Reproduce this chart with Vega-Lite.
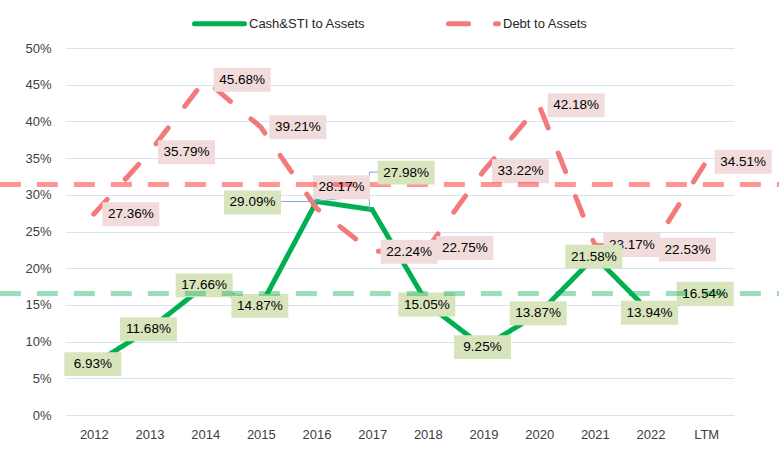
{
  "$schema": "https://vega.github.io/schema/vega-lite/v6.json",
  "width": 668,
  "height": 367,
  "autosize": {"type": "none"},
  "padding": {"left": 66, "top": 48, "right": 45, "bottom": 43},
  "background": "white",
  "datasets": {
    "main": [
      {"year": "2012", "series": "Cash&STI to Assets", "value": 0.0693},
      {"year": "2013", "series": "Cash&STI to Assets", "value": 0.1168},
      {"year": "2014", "series": "Cash&STI to Assets", "value": 0.1766},
      {"year": "2015", "series": "Cash&STI to Assets", "value": 0.1487},
      {"year": "2016", "series": "Cash&STI to Assets", "value": 0.2909},
      {"year": "2017", "series": "Cash&STI to Assets", "value": 0.2798},
      {"year": "2018", "series": "Cash&STI to Assets", "value": 0.1505},
      {"year": "2019", "series": "Cash&STI to Assets", "value": 0.0925},
      {"year": "2020", "series": "Cash&STI to Assets", "value": 0.1387},
      {"year": "2021", "series": "Cash&STI to Assets", "value": 0.2158},
      {"year": "2022", "series": "Cash&STI to Assets", "value": 0.1394},
      {"year": "LTM", "series": "Cash&STI to Assets", "value": 0.1654},
      {"year": "2012", "series": "Debt to Assets", "value": 0.2736},
      {"year": "2013", "series": "Debt to Assets", "value": 0.3579},
      {"year": "2014", "series": "Debt to Assets", "value": 0.4568},
      {"year": "2015", "series": "Debt to Assets", "value": 0.3921},
      {"year": "2016", "series": "Debt to Assets", "value": 0.2817},
      {"year": "2017", "series": "Debt to Assets", "value": 0.2224},
      {"year": "2018", "series": "Debt to Assets", "value": 0.2275},
      {"year": "2019", "series": "Debt to Assets", "value": 0.3322},
      {"year": "2020", "series": "Debt to Assets", "value": 0.4218},
      {"year": "2021", "series": "Debt to Assets", "value": 0.2317},
      {"year": "2022", "series": "Debt to Assets", "value": 0.2253},
      {"year": "LTM", "series": "Debt to Assets", "value": 0.3451}
    ],
    "avg": [
      {"series": "Cash&STI to Assets", "value": 0.1654},
      {"series": "Debt to Assets", "value": 0.314}
    ]
  },
  "data": {"name": "main"},
  "encoding": {
    "x": {
      "field": "year", "type": "ordinal", "sort": null,
      "scale": {"type": "point", "padding": 0.5},
      "axis": {"title": null, "domain": false, "ticks": false, "grid": false, "labelAngle": 0, "labelPadding": 13, "labelFont": "Liberation Sans", "labelFontSize": 13, "labelColor": "#404040"}
    },
    "y": {
      "field": "value", "type": "quantitative",
      "scale": {"domain": [0, 0.5], "nice": false, "zero": true},
      "axis": {"title": null, "values": [0, 0.05, 0.1, 0.15, 0.2, 0.25, 0.3, 0.35, 0.4, 0.45, 0.5], "format": ".0%", "domain": false, "ticks": false, "grid": true, "gridColor": "#D9E2F3", "gridWidth": 1, "labelPadding": 15, "labelFont": "Liberation Sans", "labelFontSize": 13, "labelColor": "#404040"}
    }
  },
  "layer": [
    {
      "mark": {"type": "line", "strokeWidth": 5, "strokeCap": "round", "strokeJoin": "miter"},
      "encoding": {
        "color": {
          "field": "series", "type": "nominal",
          "scale": {"domain": ["Cash&STI to Assets", "Debt to Assets"], "range": ["#00B050", "#F4797B"]},
          "legend": {
            "title": null, "orient": "none", "legendX": 126, "legendY": -52, "direction": "horizontal",
            "symbolType": "stroke", "symbolSize": 2500, "symbolStrokeWidth": 5,
            "labelFont": "Liberation Sans", "labelFontSize": 13, "labelColor": "#262626", "columnPadding": 72, "labelOffset": 2,
            "encode": {"symbols": {"update": {"strokeCap": {"value": "round"}}}}
          }
        },
        "strokeDash": {
          "field": "series", "type": "nominal",
          "scale": {"domain": ["Cash&STI to Assets", "Debt to Assets"], "range": [[1, 0], [20, 27]]},
          "legend": {
            "title": null, "orient": "none", "legendX": 126, "legendY": -52, "direction": "horizontal",
            "symbolType": "stroke", "symbolSize": 2500, "symbolStrokeWidth": 5,
            "labelFont": "Liberation Sans", "labelFontSize": 13, "labelColor": "#262626", "columnPadding": 72, "labelOffset": 2,
            "encode": {"symbols": {"update": {"strokeCap": {"value": "round"}}}}
          }
        }
      }
    },
    {
      "transform": [{"filter": "datum.series === 'Cash&STI to Assets' && datum.year === '2016'"}],
      "mark": {"type": "rule", "color": "#7FA7DB", "strokeWidth": 1, "xOffset": -35.5, "x2Offset": -4.5},
      "encoding": {"x2": {"field": "year"}}
    },
    {
      "transform": [{"filter": "datum.series === 'Cash&STI to Assets' && datum.year === '2017'"}],
      "mark": {"type": "rule", "color": "#7FA7DB", "strokeWidth": 1, "xOffset": 6, "x2Offset": -2.8, "yOffset": -37.5},
      "encoding": {"x2": {"field": "year"}}
    },
    {
      "transform": [{"filter": "datum.series === 'Cash&STI to Assets' && datum.year === '2017'"}],
      "mark": {"type": "rule", "color": "#7FA7DB", "strokeWidth": 1, "xOffset": -2.8, "yOffset": -37.5, "y2Offset": 0},
      "encoding": {"y2": {"field": "value"}}
    },
    {
      "transform": [{"filter": "datum.series === 'Debt to Assets' && datum.year === '2016'"}],
      "mark": {"type": "rule", "color": "#7FA7DB", "strokeWidth": 1, "xOffset": -4.5, "yOffset": -6.5, "x2Offset": 24.5, "y2Offset": -9.8},
      "encoding": {"x2": {"field": "year"}, "y2": {"field": "value"}}
    },
    {
      "transform": [{"filter": "datum.series === 'Debt to Assets' && datum.year !== '2016'"}],
      "mark": {"type": "point", "shape": "M-1,-0.42L1,-0.42L1,0.42L-1,0.42Z", "size": 3249, "filled": true, "fill": "#F2DCDB", "opacity": 1, "strokeWidth": 0, "xOffset": 37}
    },
    {
      "transform": [{"filter": "datum.series === 'Debt to Assets' && datum.year === '2016'"}],
      "mark": {"type": "point", "shape": "M-1,-0.42L1,-0.42L1,0.42L-1,0.42Z", "size": 3249, "filled": true, "fill": "#F2DCDB", "opacity": 1, "strokeWidth": 0, "xOffset": 25, "yOffset": -21}
    },
    {
      "data": {"name": "avg"},
      "transform": [{"filter": "datum.series === 'Debt to Assets'"}],
      "mark": {"type": "rule", "color": "#FF0000", "opacity": 0.42, "strokeWidth": 5, "strokeDash": [21, 16], "xOffset": -94, "x2Offset": 73},
      "encoding": {"x": {"datum": "2012"}, "x2": {"datum": "LTM"}, "y": {"field": "value", "type": "quantitative"}}
    },
    {
      "transform": [{"filter": "datum.series === 'Debt to Assets' && datum.year !== '2016'"}],
      "mark": {"type": "text", "font": "Liberation Sans", "fontSize": 13.5, "color": "#000000", "baseline": "middle", "align": "center", "dx": 37},
      "encoding": {"text": {"field": "value", "type": "quantitative", "format": ".2%"}}
    },
    {
      "transform": [{"filter": "datum.series === 'Debt to Assets' && datum.year === '2016'"}],
      "mark": {"type": "text", "font": "Liberation Sans", "fontSize": 13.5, "color": "#000000", "baseline": "middle", "align": "center", "dx": 25, "dy": -21},
      "encoding": {"text": {"field": "value", "type": "quantitative", "format": ".2%"}}
    },
    {
      "transform": [{"filter": "datum.series === 'Cash&STI to Assets' && datum.year !== '2016' && datum.year !== '2017'"}],
      "mark": {"type": "point", "shape": "M-1,-0.42L1,-0.42L1,0.42L-1,0.42Z", "size": 3249, "filled": true, "fill": "#D8E4BC", "opacity": 1, "strokeWidth": 0, "xOffset": -1}
    },
    {
      "transform": [{"filter": "datum.series === 'Cash&STI to Assets' && datum.year === '2016'"}],
      "mark": {"type": "point", "shape": "M-1,-0.42L1,-0.42L1,0.42L-1,0.42Z", "size": 3249, "filled": true, "fill": "#D8E4BC", "opacity": 1, "strokeWidth": 0, "xOffset": -64, "yOffset": 1}
    },
    {
      "transform": [{"filter": "datum.series === 'Cash&STI to Assets' && datum.year === '2017'"}],
      "mark": {"type": "point", "shape": "M-1,-0.42L1,-0.42L1,0.42L-1,0.42Z", "size": 3249, "filled": true, "fill": "#D8E4BC", "opacity": 1, "strokeWidth": 0, "xOffset": 34, "yOffset": -37}
    },
    {
      "data": {"name": "avg"},
      "transform": [{"filter": "datum.series === 'Cash&STI to Assets'"}],
      "mark": {"type": "rule", "color": "#00B050", "opacity": 0.4, "strokeWidth": 5, "strokeDash": [21, 16], "xOffset": -94, "x2Offset": 73},
      "encoding": {"x": {"datum": "2012"}, "x2": {"datum": "LTM"}, "y": {"field": "value", "type": "quantitative"}}
    },
    {
      "transform": [{"filter": "datum.series === 'Cash&STI to Assets' && datum.year !== '2016' && datum.year !== '2017'"}],
      "mark": {"type": "text", "font": "Liberation Sans", "fontSize": 13.5, "color": "#000000", "baseline": "middle", "align": "center", "dx": -1},
      "encoding": {"text": {"field": "value", "type": "quantitative", "format": ".2%"}}
    },
    {
      "transform": [{"filter": "datum.series === 'Cash&STI to Assets' && datum.year === '2016'"}],
      "mark": {"type": "text", "font": "Liberation Sans", "fontSize": 13.5, "color": "#000000", "baseline": "middle", "align": "center", "dx": -64, "dy": 1},
      "encoding": {"text": {"field": "value", "type": "quantitative", "format": ".2%"}}
    },
    {
      "transform": [{"filter": "datum.series === 'Cash&STI to Assets' && datum.year === '2017'"}],
      "mark": {"type": "text", "font": "Liberation Sans", "fontSize": 13.5, "color": "#000000", "baseline": "middle", "align": "center", "dx": 34, "dy": -37},
      "encoding": {"text": {"field": "value", "type": "quantitative", "format": ".2%"}}
    }
  ],
  "config": {"view": {"stroke": null}}
}
